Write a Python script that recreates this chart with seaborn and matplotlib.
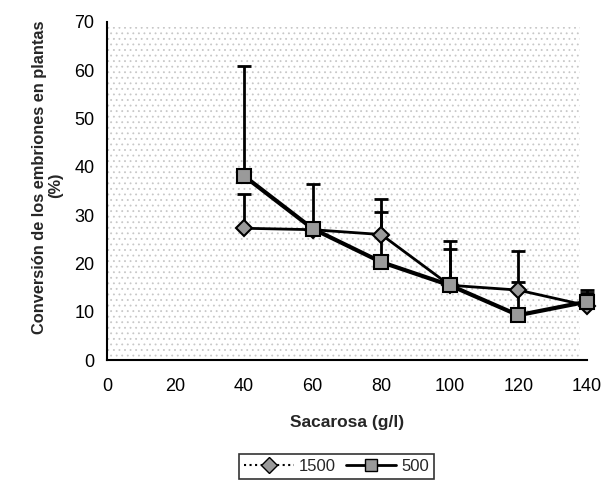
import matplotlib
matplotlib.use("Agg")
import matplotlib.pyplot as plt
import seaborn as sns
import numpy as np
import pandas as pd
from matplotlib.patches import Rectangle
from matplotlib.lines import Line2D

sacarosa = [40, 60, 80, 100, 120, 140]
series_names = ["1500", "500"]
conv_1500 = [27.3, 27.0, 26.0, 15.5, 14.5, 11.3]
err_top_1500 = [34.4, 27.5, 33.3, 24.6, 22.6, 14.6]
conv_500 = [38.1, 27.2, 20.3, 15.5, 9.3, 12.1]
err_top_500 = [60.9, 36.5, 30.7, 23.1, 16.2, 13.8]
x_ticks = [0, 20, 40, 60, 80, 100, 120, 140]
y_ticks = [0, 10, 20, 30, 40, 50, 60, 70]

df = pd.DataFrame({
    "Sacarosa": sacarosa * 2,
    "Conv": conv_1500 + conv_500,
    "Serie": [series_names[0]] * 6 + [series_names[1]] * 6,
})

sns.set_style("white")
plt.rcParams["font.family"] = ["Liberation Sans", "DejaVu Sans"]
plt.rcParams["hatch.linewidth"] = 0.6

fig = plt.figure(figsize=(6.05, 4.88), dpi=100)
ax = fig.add_axes([0.177, 0.262, 0.793, 0.693])
ax.patch.set_facecolor("white")
ax.add_patch(Rectangle((0, 0), 0.985, 0.985, transform=ax.transAxes, facecolor="white",
                       edgecolor="#c8c8c8", hatch="...", linewidth=0, zorder=0))

# error bars (upper only)
for vals, tops in [(conv_1500, err_top_1500), (conv_500, err_top_500)]:
    v = np.array(vals); t = np.array(tops)
    eb = ax.errorbar(sacarosa, v, yerr=[np.zeros_like(v), t - v], fmt="none",
                     ecolor="black", elinewidth=2, capsize=5, capthick=2, zorder=2)
    for art in eb.lines[1] + eb.lines[2]:
        art.set_clip_on(False)

sns.lineplot(data=df, x="Sacarosa", y="Conv", hue="Serie", style="Serie",
             palette={"1500": "black", "500": "black"},
             markers={"1500": "D", "500": "s"}, dashes=False,
             markersize=10, markerfacecolor="#9a9a9a", markeredgecolor="black",
             markeredgewidth=1.5, ax=ax, legend=False, zorder=3)
lines = ax.get_lines()
lines[-2].set_linewidth(2.0)
lines[-2].set_markersize(8.5)
lines[-1].set_linewidth(3.0)
lines[-1].set_markersize(10.5)
for ln in lines[-2:]:
    ln.set_clip_on(False)

ax.set_xlim(0, 140)
ax.set_ylim(0, 70)
ax.set_xticks(x_ticks)
ax.set_yticks(y_ticks)
ax.tick_params(axis="both", direction="inout", length=6, width=1.2, labelsize=13, colors="black")
ax.tick_params(axis="x", pad=10)
ax.tick_params(axis="y", pad=6)
for s in ["top", "right"]:
    ax.spines[s].set_visible(False)
for s in ["left", "bottom"]:
    ax.spines[s].set_linewidth(1.5)
    ax.spines[s].set_color("black")

ax.set_xlabel("Sacarosa (g/l)", fontsize=12.5, fontweight="bold", labelpad=14)
ax.set_ylabel("")
fig.text(40 / 605, 1 - 334 / 488, "Conversión de los embriones en plantas",
         rotation=90, ha="center", va="bottom", fontsize=11.8, fontweight="bold")
fig.text(56 / 605, 1 - 185 / 488, "(%)", rotation=90, ha="center", va="center",
         fontsize=11.8, fontweight="bold")

handles = [
    Line2D([], [], color="black", lw=1.5, ls=":", marker="D", markersize=8,
           markerfacecolor="#9a9a9a", markeredgecolor="black"),
    Line2D([], [], color="black", lw=2, marker="s", markersize=9,
           markerfacecolor="#9a9a9a", markeredgecolor="black"),
]
leg = fig.legend(handles, series_names, loc="center", bbox_to_anchor=(0.556, 0.045),
                 ncol=2, frameon=True, fancybox=False, edgecolor="black",
                 fontsize=12, handlelength=3, columnspacing=0.6, handletextpad=0.3,
                 borderpad=0.3)
leg.get_frame().set_linewidth(1.2)

fig.savefig("out.png", dpi=100)
